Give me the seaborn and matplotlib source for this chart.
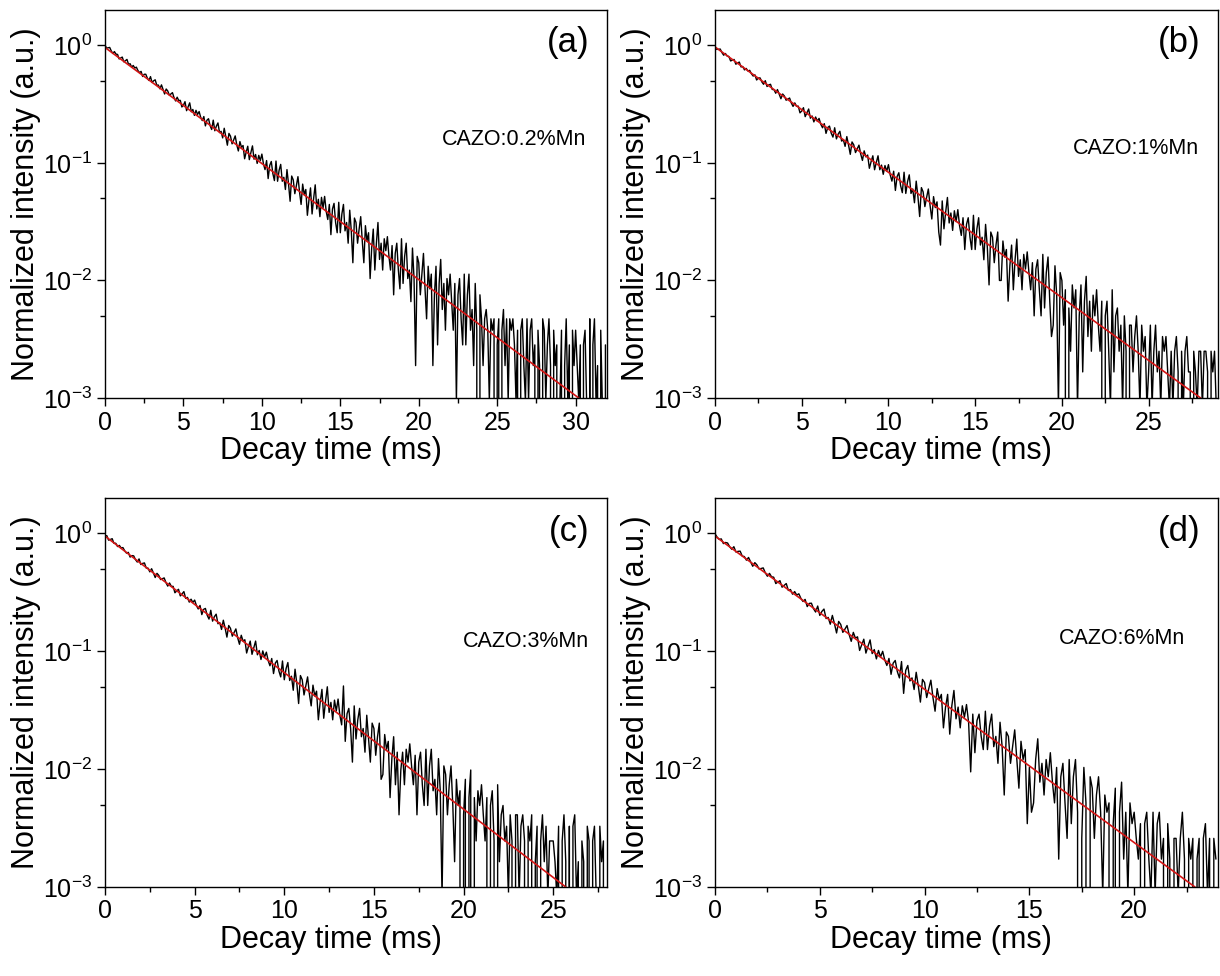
import numpy as np
import matplotlib
matplotlib.use("Agg")
import matplotlib.pyplot as plt
import seaborn as sns
from matplotlib.ticker import MultipleLocator, LogLocator, NullFormatter

# ---------------- data (photon counts) ----------------
dt = 0.1  # ms between samples

a_counts = [
    1066, 1005, 1011, 1018, 950, 905, 939, 893, 888, 813,
    827, 843, 768, 785, 805, 732, 740, 692, 715, 680,
    692, 647, 621, 637, 576, 602, 602, 558, 533, 575,
    512, 530, 540, 486, 487, 453, 489, 448, 409, 451,
    434, 400, 409, 420, 381, 357, 384, 360, 361, 317,
    329, 352, 295, 319, 344, 289, 302, 269, 297, 274,
    290, 259, 243, 263, 219, 245, 252, 220, 204, 245,
    199, 218, 232, 192, 197, 173, 209, 178, 150, 189,
    179, 154, 166, 180, 151, 134, 161, 144, 149, 115,
    131, 147, 113, 130, 148, 114, 125, 105, 123, 111,
    126, 104, 93, 111, 78, 101, 109, 86, 75, 110,
    74, 92, 103, 74, 80, 63, 93, 70, 50, 82,
    76, 58, 68, 81, 60, 47, 70, 57, 63, 38,
    51, 65, 39, 53, 69, 43, 52, 37, 54, 44,
    55, 41, 35, 47, 26, 43, 48, 33, 27, 49,
    27, 39, 47, 28, 33, 22, 42, 28, 15, 36,
    33, 22, 29, 37, 23, 15, 31, 23, 27, 11,
    20, 29, 13, 22, 33, 16, 22, 13, 24, 19,
    25, 17, 13, 21, 8, 18, 22, 13, 9, 24,
    10, 17, 22, 11, 13, 7, 20, 11, 2, 17,
    15, 8, 12, 18, 9, 5, 14, 9, 12, 2,
    8, 14, 3, 10, 16, 6, 10, 4, 11, 8,
    12, 7, 4, 10, 1, 8, 11, 5, 3, 12,
    3, 8, 12, 4, 6, 2, 10, 4, 0, 8,
    5, 2, 5, 6, 4, 1, 5, 4, 5, 0,
    3, 5, 0, 4, 6, 2, 5, 1, 5, 4,
    5, 3, 1, 4, 0, 4, 5, 2, 1, 5,
    1, 4, 5, 2, 3, 0, 4, 2, 0, 5,
    4, 1, 3, 5, 2, 0, 4, 2, 3, 0,
    1, 4, 0, 2, 5, 1, 3, 0, 4, 2,
    4, 2, 1, 3, 0, 3, 4, 1, 0, 5,
    0, 3, 5, 1, 2, 0, 4, 1, 0, 3]
b_counts = [
    1177, 1109, 1111, 1117, 1042, 990, 1024, 974, 966, 885,
    897, 911, 830, 848, 866, 787, 793, 742, 764, 726,
    736, 688, 658, 674, 609, 634, 634, 587, 560, 601,
    536, 553, 560, 506, 505, 470, 505, 462, 422, 463,
    445, 410, 418, 428, 388, 363, 389, 364, 365, 320,
    332, 354, 297, 320, 345, 288, 301, 268, 295, 272,
    287, 256, 239, 259, 214, 240, 247, 215, 199, 239,
    192, 211, 223, 184, 189, 166, 201, 170, 142, 181,
    171, 147, 158, 170, 143, 126, 152, 135, 140, 108,
    123, 138, 105, 121, 138, 105, 115, 96, 114, 102,
    116, 95, 84, 102, 70, 92, 99, 77, 67, 100,
    66, 83, 95, 66, 72, 55, 84, 62, 42, 74,
    68, 51, 61, 72, 52, 40, 62, 50, 56, 31,
    24, 57, 33, 46, 61, 37, 45, 32, 47, 38,
    48, 35, 29, 41, 22, 36, 41, 28, 22, 43,
    22, 33, 41, 24, 28, 18, 36, 23, 11, 31,
    28, 17, 24, 31, 12, 12, 26, 19, 22, 8,
    16, 24, 10, 18, 27, 13, 18, 10, 20, 15,
    21, 14, 10, 17, 6, 15, 18, 10, 6, 20,
    7, 14, 19, 8, 4, 5, 16, 9, 1, 14,
    12, 5, 10, 0, 7, 3, 11, 7, 10, 1,
    6, 11, 2, 8, 13, 4, 8, 3, 9, 6,
    10, 5, 3, 8, 0, 6, 8, 3, 1, 10,
    2, 6, 7, 3, 5, 1, 6, 3, 0, 5,
    5, 2, 4, 6, 3, 1, 5, 3, 4, 1,
    2, 5, 1, 3, 5, 2, 3, 1, 4, 3,
    4, 2, 1, 3, 1, 3, 4, 2, 0, 3,
    1, 3, 4, 2, 2, 0, 3, 2, 1, 3,
    3, 1, 3, 3, 2, 0, 3, 2, 3, 1]
c_counts = [
    1159, 1170, 1071, 1085, 1102, 1007, 1008, 945, 967, 920,
    926, 869, 831, 844, 769, 792, 788, 732, 698, 742,
    665, 680, 686, 621, 620, 576, 613, 564, 516, 560,
    538, 496, 504, 512, 467, 436, 464, 434, 434, 383,
    397, 410, 360, 375, 392, 343, 350, 319, 338, 317,
    332, 298, 279, 299, 250, 277, 282, 247, 229, 272,
    220, 240, 252, 209, 214, 187, 224, 192, 161, 202,
    191, 164, 176, 189, 159, 140, 167, 149, 153, 118,
    134, 149, 115, 131, 149, 114, 124, 104, 123, 109,
    120, 102, 92, 106, 79, 97, 102, 83, 74, 101,
    70, 87, 98, 69, 75, 57, 86, 65, 44, 76,
    70, 52, 62, 74, 53, 42, 63, 51, 56, 32,
    45, 58, 33, 46, 61, 37, 45, 32, 47, 38,
    48, 35, 29, 62, 21, 36, 40, 27, 14, 42,
    22, 32, 40, 23, 27, 17, 35, 22, 14, 30,
    27, 16, 23, 30, 10, 11, 24, 18, 21, 7,
    15, 23, 9, 17, 5, 12, 17, 9, 18, 14,
    20, 13, 9, 16, 5, 14, 17, 9, 6, 18,
    6, 13, 18, 8, 10, 5, 15, 8, 1, 13,
    11, 5, 9, 13, 6, 2, 10, 6, 8, 0,
    5, 10, 0, 7, 12, 0, 7, 3, 8, 6,
    9, 5, 3, 7, 0, 6, 8, 3, 0, 9,
    2, 5, 6, 3, 4, 1, 5, 3, 0, 5,
    5, 1, 4, 5, 3, 0, 4, 3, 5, 0,
    2, 4, 0, 3, 5, 2, 4, 1, 3, 3,
    3, 2, 1, 4, 0, 3, 5, 2, 0, 4,
    0, 4, 5, 1, 2, 0, 3, 2, 0, 4,
    3, 0, 3, 4, 1, 0, 4, 2, 3, 0]
d_counts = [
    1153, 1081, 1034, 1043, 952, 973, 963, 895, 852, 896,
    807, 818, 821, 746, 739, 688, 726, 667, 611, 656,
    628, 580, 585, 592, 538, 503, 532, 497, 494, 436,
    449, 461, 406, 421, 436, 381, 388, 354, 373, 348,
    357, 326, 307, 320, 278, 296, 297, 267, 250, 281,
    234, 253, 265, 220, 225, 197, 234, 199, 166, 208,
    196, 168, 179, 192, 161, 141, 168, 150, 154, 118,
    132, 147, 112, 128, 145, 111, 120, 100, 118, 104,
    116, 98, 88, 101, 74, 92, 97, 78, 69, 95,
    51, 80, 88, 65, 69, 55, 77, 59, 43, 67,
    63, 47, 56, 66, 47, 36, 56, 45, 50, 26,
    39, 50, 23, 40, 54, 31, 39, 26, 40, 32,
    41, 29, 11, 34, 16, 30, 34, 22, 17, 36,
    17, 27, 34, 18, 22, 13, 29, 18, 7, 24,
    22, 13, 18, 25, 14, 8, 20, 14, 17, 4,
    12, 5, 6, 14, 21, 9, 13, 7, 14, 10,
    16, 9, 6, 12, 2, 10, 13, 6, 3, 14,
    4, 10, 14, 5, 0, 3, 12, 6, 0, 10,
    8, 3, 7, 10, 5, 1, 7, 5, 6, 0,
    4, 8, 0, 5, 9, 2, 5, 1, 6, 4,
    5, 3, 2, 4, 0, 4, 5, 2, 1, 5,
    1, 4, 5, 2, 3, 0, 4, 2, 0, 3,
    3, 1, 3, 5, 2, 0, 3, 2, 3, 0,
    2, 3, 0, 3, 4, 1, 3, 0, 3, 2]

# counts that correspond to a normalized intensity of 1
norm_counts = [1060, 1200, 1220, 1160]

# single-exponential fits: value at t = 0 and time where the fit reaches 1e-3
fit_start = [0.96, 0.97, 0.95, 0.95]
fit_end_t = [30.2, 28.0, 25.7, 22.9]
fit_end_y = [1e-3, 1e-3, 1e-3, 1e-3]

x_max = [32, 29, 28, 24]
panel_tags = ["(a)", "(b)", "(c)", "(d)"]
sample_names = ["CAZO:0.2%Mn", "CAZO:1%Mn", "CAZO:3%Mn", "CAZO:6%Mn"]
all_counts = [a_counts, b_counts, c_counts, d_counts]

# ---------------- style ----------------
sns.set_theme(style="ticks")
plt.rcParams["font.family"] = ["Liberation Sans", "DejaVu Sans"]
plt.rcParams["mathtext.fontset"] = "custom"
plt.rcParams["mathtext.rm"] = "Liberation Sans"
plt.rcParams["mathtext.it"] = "Liberation Sans:italic"
plt.rcParams["axes.unicode_minus"] = False
plt.rcParams["text.color"] = "black"
plt.rcParams["axes.labelcolor"] = "black"
plt.rcParams["xtick.color"] = "black"
plt.rcParams["ytick.color"] = "black"

W, H = 1220, 976
fig = plt.figure(figsize=(W / 100, H / 100), dpi=100)

# panel rectangles in pixels: left, top, right, bottom
rects = [(105, 10, 607, 398), (715, 10, 1218, 398),
         (105, 498, 607, 887), (715, 498, 1218, 887)]

# positions of the sample label (axes fraction, right-aligned)
name_pos = [(0.959, 0.666), (0.962, 0.642), (0.965, 0.630), (0.935, 0.639)]

for i in range(4):
    l, t, r, b = rects[i]
    ax = fig.add_axes([l / W, 1 - b / H, (r - l) / W, (b - t) / H])
    counts = np.asarray(all_counts[i], dtype=float)
    tt = np.arange(len(counts)) * dt
    yy = counts / norm_counts[i]
    sns.lineplot(x=tt, y=yy, ax=ax, color="black", lw=1.0,
                 estimator=None, sort=False)
    sns.lineplot(x=[0, fit_end_t[i]], y=[fit_start[i], fit_end_y[i]], ax=ax,
                 color="#d41414", lw=1.2, estimator=None, sort=False)
    ax.set_yscale("log", nonpositive="clip")
    ax.set_ylim(1e-3, 2.0)
    ax.set_xlim(0, x_max[i])
    ax.xaxis.set_major_locator(MultipleLocator(5))
    ax.xaxis.set_minor_locator(MultipleLocator(2.5))
    ax.yaxis.set_major_locator(LogLocator(base=10, numticks=10))
    ax.yaxis.set_minor_locator(LogLocator(base=10, subs=[5.0], numticks=10))
    ax.yaxis.set_minor_formatter(NullFormatter())
    ax.tick_params(axis="both", which="major", direction="out", length=6,
                   width=1, labelsize=18, colors="black", pad=3,
                   top=False, right=False)
    ax.tick_params(axis="both", which="minor", direction="out", length=3.5,
                   width=1, top=False, right=False)
    for s in ax.spines.values():
        s.set_visible(True)
        s.set_color("black")
        s.set_linewidth(1.0)
    ax.set_xlabel("Decay time (ms)", fontsize=22)
    ax.xaxis.set_label_coords(0.45, -0.097)
    ax.set_ylabel("Normalized intensity (a.u.)", fontsize=22, labelpad=2)
    ax.text(0.965, 0.915, panel_tags[i], transform=ax.transAxes,
            fontsize=25, ha="right", va="center", color="black")
    ax.text(name_pos[i][0], name_pos[i][1], sample_names[i],
            transform=ax.transAxes, fontsize=15.5, ha="right", va="center",
            color="black")

fig.savefig("out.png", dpi=100)
